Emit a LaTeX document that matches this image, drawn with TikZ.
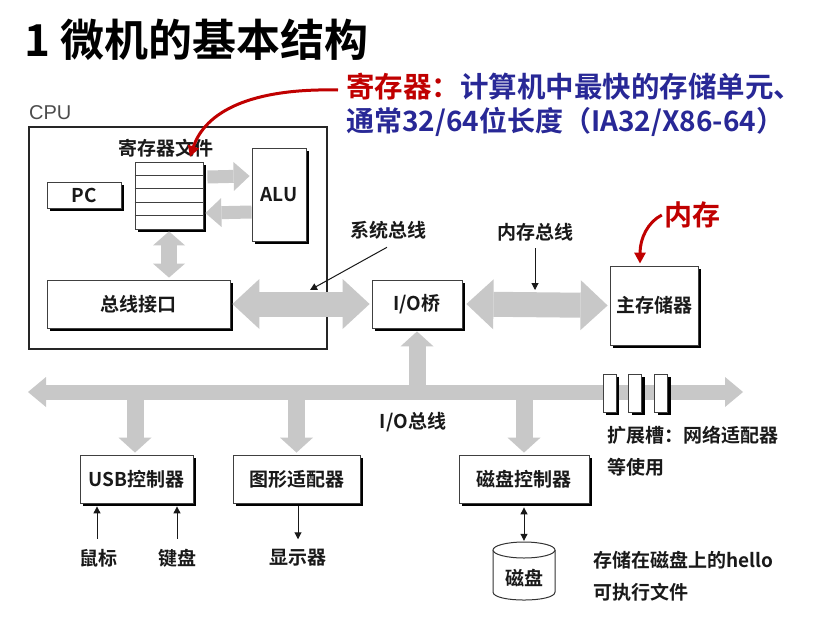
\documentclass[tikz,border=0pt]{standalone}
\usepackage{fontspec}
\setmainfont{Noto Sans CJK SC}[BoldFont={Noto Sans CJK SC Bold}]
\newfontfamily\cpufont{Liberation Sans}
\usetikzlibrary{arrows.meta,shadows,calc}
\definecolor{busgray}{RGB}{200,200,200}
\definecolor{annred}{RGB}{192,0,0}
\definecolor{annblue}{RGB}{40,40,150}
\definecolor{ink}{RGB}{25,25,25}
\begin{document}
\begin{tikzpicture}[x=1pt,y=-1pt,
  box/.style={draw=black!75, line width=0.8pt, fill=white, inner sep=0pt,
    font=\bfseries\fontsize{19}{21}\selectfont, text=ink,
    drop shadow={shadow xshift=3pt, shadow yshift=-3pt, fill=black, opacity=1}},
  lbl/.style={font=\bfseries\fontsize{19}{21}\selectfont, text=ink, inner sep=0pt},
  fatbus/.style={draw=busgray, line width=25pt,
    {Triangle[length=27pt,width=50pt,line width=0pt]}-{Triangle[length=27pt,width=50pt,line width=0pt]}},
  smallgray/.style={draw=busgray, line width=13pt,
    -{Triangle[length=16pt,width=29pt,line width=0pt]}},
  vgray/.style={draw=busgray, line width=16pt,
    {Triangle[length=14pt,width=32pt,line width=0pt]}-{Triangle[length=14pt,width=32pt,line width=0pt]}},
  iobus/.style={draw=busgray, line width=15pt,
    {Triangle[length=18pt,width=30pt,line width=0pt]}-{Triangle[length=18pt,width=30pt,line width=0pt]}},
  branch/.style={draw=busgray, line width=17pt,
    -{Triangle[length=15pt,width=33pt,line width=0pt]}},
  thinarrow/.style={draw=ink, line width=1pt, -{Triangle[length=7pt,width=7pt]}},
  thinboth/.style={draw=ink, line width=1pt, {Triangle[length=7pt,width=7pt]}-{Triangle[length=7pt,width=7pt]}},
  redarrow/.style={draw=annred, line width=3pt, -{Triangle[length=11pt,width=11pt]}}
]
\useasboundingbox (0,0) rectangle (824,616);
\fill[white] (0,0) rectangle (824,616);

% title
\node[anchor=west, inner sep=0pt, font=\bfseries\fontsize{44}{46}\selectfont, text=black] (title) at (24,40) {1 微机的基本结构};

% CPU
\node[anchor=west, inner sep=0pt, font=\cpufont\fontsize{20}{22}\selectfont, text=black!70] (cpulbl) at (29,113) {CPU};
\node[draw=black!85, line width=2.6pt, minimum width=298pt, minimum height=222pt, inner sep=0pt] (cpu) at (178,238) {};

\node[box, minimum width=74pt, minimum height=26pt] (pc) at (84,195) {PC};
\node[box, minimum width=68pt, minimum height=67pt] (regfile) at (169,195.5) {};
\foreach \f in {0.2,0.4,0.6,0.8}
  \draw[black!75, line width=0.8pt] ($(regfile.north west)!\f!(regfile.south west)$) -- ($(regfile.north east)!\f!(regfile.south east)$);
\node[lbl] (reglbl) at (166,148) {寄存器文件};
\node[box, minimum width=54pt, minimum height=93pt] (alu) at (279,194.5) {ALU};
\node[box, minimum width=183pt, minimum height=48pt] (busif) at (138.5,304) {总线接口};

\draw[smallgray] ([xshift=4pt,yshift=18.5pt]regfile.east) -- ([xshift=-2pt,yshift=18.5pt]alu.west);
\draw[smallgray] ([yshift=-17.5pt]alu.west) -- ([xshift=2pt,yshift=-17.5pt]regfile.east);
\draw[vgray] ([yshift=-2pt]regfile.south) -- ([yshift=2pt]regfile.south |- busif.north);

% bridge and memory
\node[box, minimum width=90pt, minimum height=48pt] (iob) at (417,304) {I/O桥};
\node[box, minimum width=88pt, minimum height=79pt] (mem) at (654,305.5) {主存储器};

\draw[fatbus] ([xshift=2pt]busif.east) -- ([xshift=-2pt]iob.west);
\draw[fatbus] ([xshift=4pt]iob.east) -- ([xshift=-2pt]mem.west);

\node[lbl] (sysbus) at (388,230) {系统总线};
\node[lbl] (membus) at (535,232) {内存总线};
\coordinate (sysbustip) at (310,290);
\coordinate (membustip) at (535,290);
\draw[thinarrow] ([xshift=-1pt,yshift=-8pt]sysbus.south) -- (sysbustip);
\draw[thinarrow] ([yshift=-7pt]membus.south) -- (membustip);

% annotations
\node[anchor=west, inner sep=0pt, font=\bfseries\fontsize{28.5}{30}\selectfont] (ann1) at (346,87)
  {\textcolor{annred}{寄存器：}\textcolor{annblue}{计算机中最快的存储单元、}};
\node[anchor=west, inner sep=0pt, font=\bfseries\fontsize{28}{30}\selectfont, text=annblue] (ann2) at (346,122)
  {通常32/64位长度（IA32/X86-64）};
\coordinate (regtip) at (190,157);
\draw[redarrow] ([xshift=-8pt,yshift=-3pt]ann1.west) .. controls (250,88) and (205,112) .. (regtip);

\node[inner sep=0pt, font=\bfseries\fontsize{28}{30}\selectfont, text=annred] (neicun) at (692,215) {内存};
\draw[redarrow] ([xshift=-2pt]neicun.west) .. controls (648,222) and (640,238) .. ([xshift=-14pt,yshift=2pt]mem.north);

% I/O bus
\coordinate (busL) at (28,392);
\coordinate (busR) at (743,392);
\draw[iobus] (busL) -- (busR);

\node[box, minimum width=113pt, minimum height=48pt] (usb) at (136.5,479) {USB控制器};
\node[box, minimum width=127pt, minimum height=48pt] (gfx) at (296.5,479) {图形适配器};
\node[box, minimum width=130pt, minimum height=48pt] (diskc) at (524,479) {磁盘控制器};

\draw[branch] (iob.south |- busL) -- ([yshift=-3pt]iob.south);
\draw[branch] ([xshift=-1.5pt]usb.north |- busL) -- ([xshift=-1.5pt,yshift=2pt]usb.north);
\draw[branch] (gfx.north |- busL) -- ([yshift=2pt]gfx.north);
\draw[branch] (diskc.north |- busL) -- ([yshift=2pt]diskc.north);

% expansion slots
\node[box, minimum width=13pt, minimum height=38pt] (slot1) at (609.5,393) {};
\node[box, minimum width=13pt, minimum height=38pt] (slot2) at (635,393) {};
\node[box, minimum width=13pt, minimum height=38pt] (slot3) at (661,393) {};

\node[lbl] (iobuslbl) at (413,422) {I/O总线};
\node[lbl, anchor=west] (slotlbl1) at (607,435) {扩展槽：网络适配器};
\node[lbl, anchor=west] (slotlbl2) at (607,467) {等使用};

% devices
\node[lbl] (mouse) at (98,558) {鼠标};
\node[lbl] (kbd) at (177,558) {键盘};
\node[lbl] (disp) at (298,558) {显示器};
\draw[thinarrow] ([xshift=-1pt,yshift=10pt]mouse.north) -- ([xshift=-1pt,yshift=-3pt]mouse.north |- usb.south);
\draw[thinarrow] ([yshift=10pt]kbd.north) -- ([yshift=-3pt]kbd.north |- usb.south);
\draw[thinarrow] ([yshift=-3pt]disp.north |- gfx.south) -- ([yshift=10pt]disp.north);

% disk
\node[inner sep=0pt, minimum width=62pt, minimum height=58pt] (disk) at (524,571) {};
\draw[black!80, line width=1pt, fill=white] (493,550) -- (493,592) .. controls (493,602.7) and (555,602.7) .. (555,592) -- (555,550);
\draw[black!80, line width=1pt, fill=white] (524,550) ellipse [x radius=31pt, y radius=8pt];
\node[lbl] (disklbl) at (524,578) {磁盘};
\draw[thinboth] ([yshift=-4pt]diskc.south) -- ([yshift=1pt]disk.north);

\node[lbl, anchor=west] (hello1) at (593,560) {存储在磁盘上的hello};
\node[lbl, anchor=west] (hello2) at (593,592) {可执行文件};
\end{tikzpicture}
\end{document}
